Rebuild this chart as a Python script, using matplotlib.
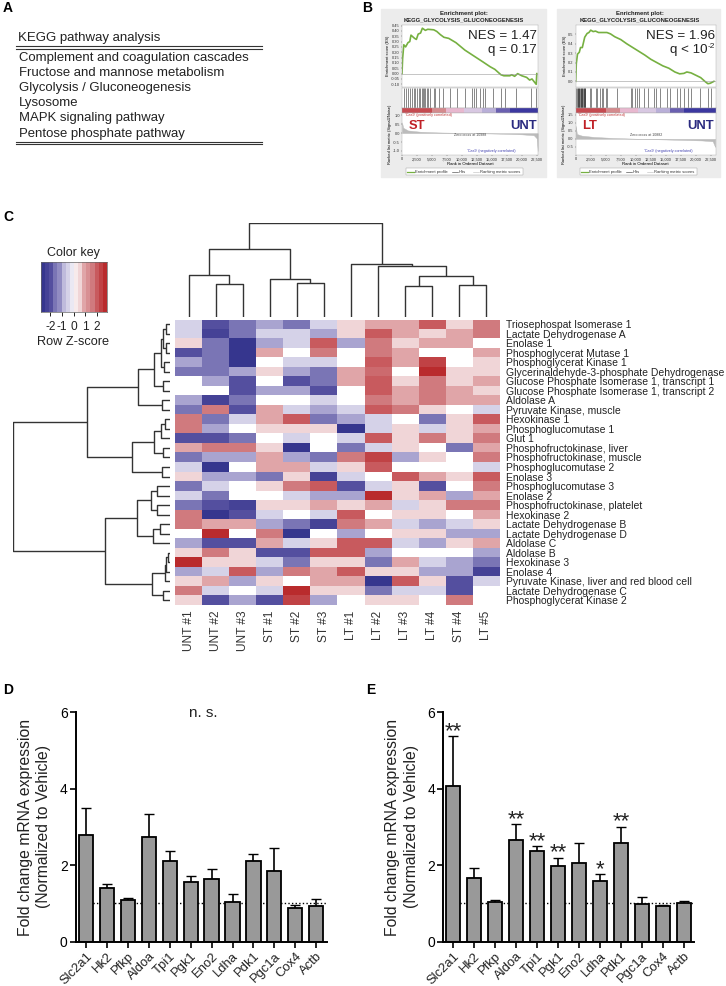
import matplotlib
matplotlib.use("Agg")
import matplotlib.pyplot as plt
import numpy as np
from matplotlib.colors import LinearSegmentedColormap
from matplotlib.lines import Line2D
from matplotlib.patches import Rectangle

plt.rcParams["font.family"] = ["Liberation Sans", "DejaVu Sans"]

W, H = 726, 986

# Panel A
kegg_title = "KEGG pathway analysis"
kegg_rows = ["Complement and coagulation cascades", "Fructose and mannose metabolism",
             "Glycolysis / Gluconeogenesis", "Lysosome", "MAPK signaling pathway",
             "Pentose phosphate pathway"]

# Panel B
rank_ticks = [0, 2500, 5000, 7500, 10000, 12500, 15000, 17500, 20000, 22500]
st_rank = [0, 100, 300, 600, 1000, 1300, 1500, 2100, 2400, 2700, 3100, 3400, 3900, 4300, 5300, 5800, 6400,
           7000, 7800, 9000, 10500, 12000, 13500, 14700, 15500, 16500, 17000, 18000, 18300, 18800, 19300,
           20000, 20800, 21300, 21700, 22400, 22500]
st_es = [0, .14, .27, .25, .29, .30, .36, .33, .32, .37, .38, .425, .405, .415, .41, .395, .365,
         .34, .33, .29, .22, .165, .11, .065, .04, -.01, -.02, -.02, -.01, -.025, 0,
         -.02, -.035, -.06, -.05, -.10, 0]
st_hits = [300, 700, 1000, 1400, 1700, 2000, 2200, 2500, 2800, 3000, 3300, 3500, 3600, 3900, 4100, 4400, 4700,
           5300, 5500, 6100, 6900, 8000, 9100, 10500, 11700, 12000, 12400, 13000, 13500, 13900, 15200, 16500,
           17200, 19000, 21500, 22400]
st_metric_rank = [0, 200, 1000, 3000, 6000, 10000, 12000, 16000, 20000, 22000, 22500, 22650]
st_metric = [.6, .3, .15, .08, .04, .01, 0, -.03, -.07, -.12, -.3, -1.0]

lt_rank = [0, 100, 300, 600, 800, 1100, 1500, 1900, 2200, 2500, 2900, 3300, 3800, 4500, 5200, 5800, 6500,
           7500, 8500, 9500, 10500, 11500, 12500, 13500, 14500, 15500, 16500, 17300, 18000, 18500, 19200,
           20000, 20800, 21500, 22000, 22400, 23000]
lt_es = [0, .19, .29, .31, .36, .36, .47, .51, .52, .545, .53, .535, .52, .52, .52, .505, .475,
         .445, .40, .36, .32, .28, .235, .20, .165, .14, .10, .08, .085, .10, .09,
         .065, .04, 0, -.025, -.02, 0]
lt_hits = [100, 200, 300, 400, 500, 600, 700, 800, 900, 1000, 1100, 1200, 1300, 1400, 1500, 1600, 2300, 2500,
           3300, 3600, 4000, 4300, 4500, 5100, 5200, 6800, 9200, 9400, 9800, 10200, 10500, 11300, 12100, 13000,
           13400, 14100, 15200, 15700, 16800, 17400, 18000, 18700, 19200, 20700, 22100, 22500]
lt_metric_rank = [0, 200, 1000, 3000, 6000, 10000, 14000, 18000, 21000, 22800, 23200]
lt_metric = [.8, .3, .2, .12, .06, .01, -.03, -.07, -.1, -.15, -.5]
heat_edges = [0, 5000, 7400, 10300, 13300, 15700, 18000, 23300]
heat_colors = ["#c64a50", "#d58a8d", "#e8b8cf", "#d8c8e2", "#b9afd8", "#6a60b0", "#3c38a0"]

# Panel C
sample_labels = ["UNT #1", "UNT #2", "UNT #3", "ST #1", "ST #2", "ST #3",
                 "LT #1", "LT #2", "LT #3", "LT #4", "ST #4", "LT #5"]
gene_labels = ["Triosephospat Isomerase 1", "Lactate Dehydrogenase A", "Enolase 1", "Phosphoglycerat Mutase 1",
               "Phosphoglycerat Kinase 1", "Glycerinaldehyde-3-phosphate Dehydrogenase",
               "Glucose Phosphate Isomerase 1, transcript 1", "Glucose Phosphate Isomerase 1, transcript 2",
               "Aldolase A", "Pyruvate Kinase, muscle", "Hexokinase 1", "Phosphoglucomutase 1", "Glut 1",
               "Phosphofructokinase, liver", "Phosphofructokinase, muscle", "Phosphoglucomutase 2", "Enolase 3",
               "Phosphoglucomutase 3", "Enolase 2", "Phosphofructokinase, platelet", "Hexokinase 2",
               "Lactate Dehydrogenase B", "Lactate Dehydrogenase D", "Aldolase C", "Aldolase B", "Hexokinase 3",
               "Enolase 4", "Pyruvate Kinase, liver and red blood cell", "Lactate Dehydrogenase C",
               "Phosphoglycerat Kinase 2"]
# colour level per cell, -5 (dark blue) to 5 (dark red)
heat_values = [
    [-1, -4, -3, -2, -3, -1, 1, 2, 2, 4, 1, 3],
    [-1, -4.5, -3, -1, -1, -2, 1, 4, 2, 1, 2, 3],
    [1, -3, -5, -2, -1, 4, -2, 3, 1, 2, 2, 0],
    [-4, -3, -5, 2, 0, 3, 0, 3, 2, 0, 0, 2],
    [-2, -3, -5, 0, -1, -1, 0, 4, 2, 4.5, 0, 1],
    [-3, -3, -2, 1, -2, -3, 2, 3.5, 0, 5, 1, 1],
    [0, -2, -4, 0, -4, -3, 2, 4, 1, 3, 1, 2],
    [0, 0, -4, -2, -2, -4, 0, 4, 2, 3, 2, 1],
    [-2, -4.5, -3, 0, 0, -1, 0, 3, 2, 3, 2, 2],
    [-3, 3, -4, 2, -1, -2, -1, 4, 3, 1, 0, -1],
    [3, -3, -1, 2, 4, -3, -2, -1, 0, -3, 1, 4],
    [3, -2, 0, 1, 1, 1, -5, -1, 1, -1, 1, 2],
    [-4, -4, -3, 0, -1, 0, -1, 4, 1, 3, 1, 3],
    [2, 3, 3, 1, -5, 0, -3, -1, 1, 0, -3, 2],
    [-3, -2, -2, 2, -2, -3, 3, 4.5, -2, 1, 0, 3],
    [-1, -5, 0, 2, 2, -1, 1, 4, 0, 0, 0, -1],
    [1, -2, -2, -3, 1, -4.5, -1, 0, 4, 2, 1, 4],
    [-3, -1, 0, 1, 3, 4, -4, -1, 1, -4, 0, 3],
    [-1, -3, 0, 0, -1, -2, -2, 5, 1, 2, -2, 2],
    [-3, -4, -4.5, 1, 1, 2, 1, 2, -1, 1, 3, 3],
    [3, -5, -4, -1, 0, -1, 4, 0, 1, 1, 0, 2],
    [3, 2, 2, -2, -3, -4.5, 3, 2, -1, -2, -1, 1],
    [0, 5, 0, 3, -5, 0, -2, 0, 1, 1, -2, -2],
    [-2, -4, -4, 2, -1, 1, 4, 4, -1, -2, 1, 2],
    [1, 3, 1, -4, -4, 4, 4, -2, 0, 0, 0, -2],
    [5, 1, 1, -1, -3, 1, 1, -3, 2, -1, -2, -3],
    [-2, -1, 4, -2, 3, 2, 4, 1, 1, -2, -2, -4.5],
    [1, 2, -2, 1, 0, 2, 2, -5, 4, 1, -4, -1],
    [3, -1, 0, -1, 5, 1, 1, -3, -1, -1, -4, 0],
    [1, -4, -2, -4, 4.5, -2, 0, 1, 1, 0, 3, 0],
]
key_ticks = [-2, -1, 0, 1, 2]
key_colors = ["#36368e", "#544f9f", "#7a75b5", "#a9a4d0", "#d5d2e8", "#ffffff",
              "#f0d5d7", "#e0a5a8", "#d07a7e", "#c85a5e", "#b92b2d"]
# trees: (height, child, child), a leaf is a row or column number
col_tree = (93.5,
            (68, (42, 0, (33, 1, 2)), (38, 3, (34, 4, 5))),
            (53, 6, (51, 7, (41, (31, 8, 9), (32, 10, 11)))))
row_tree = (157,
            (83, (32, (16, (9, (7, (4, 0, 1), (4, 2, 3)), (6, 4, 5)), (7, 6, 7)), (8, 8, 9)),
             (38, (16, (9, (5, 10, 11), 12), (7, 13, 14)), (8, 15, 16))),
            (65, (33, (19, (13, 17, 18), (13, 19, 20)), (17, (10, 21, 22), 23)),
             (18, (5, (4, (2, 24, 25), 26), 27), (7, 28, 29))))

# Panels D and E
genes = ["Slc2a1", "Hk2", "Pfkp", "Aldoa", "Tpi1", "Pgk1", "Eno2", "Ldha", "Pdk1", "Pgc1a", "Cox4", "Actb"]
d_means = [2.78, 1.40, 1.10, 2.74, 2.10, 1.55, 1.63, 1.03, 2.11, 1.84, 0.88, 0.94]
d_tops = [3.50, 1.50, 1.15, 3.33, 2.38, 1.71, 1.91, 1.24, 2.30, 2.45, 0.95, 1.12]
e_means = [4.07, 1.66, 1.03, 2.67, 2.36, 1.99, 2.06, 1.60, 2.58, 0.98, 0.93, 1.00]
e_tops = [5.37, 1.92, 1.10, 3.07, 2.50, 2.20, 2.57, 1.76, 3.01, 1.16, 0.97, 1.07]
e_stars = ["**", "", "", "**", "**", "**", "", "*", "**", "", "", ""]

fig = plt.figure(figsize=(W / 100, H / 100), dpi=100)


def ax_px(left, top, right, bottom):
    return fig.add_axes([left / W, 1 - bottom / H, (right - left) / W, (bottom - top) / H])


def text_px(x, y, s, **kw):
    kw.setdefault("va", "center")
    return fig.text(x / W, 1 - y / H, s, **kw)


def rule(x0, x1, y, lw=1.0, color="#333333"):
    fig.add_artist(Line2D([x0 / W, x1 / W], [1 - y / H, 1 - y / H], color=color, lw=lw))


for label, x, y in [("A", 3, 8), ("B", 362, 8), ("C", 3, 217), ("D", 3, 690), ("E", 366, 690)]:
    text_px(x, y, label, fontsize=10, fontweight="bold")

# Panel A table
text_px(18, 38, kegg_title, fontsize=9.5, color="#222222")
rule(16, 262, 46, 0.8)
rule(16, 262, 48.5, 0.8)
for i, name in enumerate(kegg_rows):
    text_px(19, 58 + i * 15.1, name, fontsize=9.45, color="#222222")
rule(16, 262, 141.5, 0.8)
rule(16, 262, 144, 0.8)


def style_gsea(ax):
    ax.tick_params(length=1, width=0.3, labelsize=2.9, pad=0.6, colors="#333333")
    for s in ax.spines.values():
        s.set_linewidth(0.3)
        s.set_color("#aaaaaa")


def gsea_panel(box, xmax, rank, es, hits, mrank, metric, es_lim, es_ticks, m_lim, m_ticks,
               es_fmt, nes, q, q_exp, lab, lab_x, unt_x, zero_txt):
    left, right, bg_l, bg_r = box
    fig.add_artist(Rectangle((bg_l / W, 1 - 177 / H), (bg_r - bg_l) / W, 168 / H, color="#ececec", zorder=-5))
    mid = (left + right) / 2 - 6
    text_px(mid, 13.7, "Enrichment plot:", fontsize=4.3, fontweight="bold", ha="center", color="#222222")
    text_px(mid, 20.3, "KEGG_GLYCOLYSIS_GLUCONEOGENESIS", fontsize=4.25, fontweight="bold", ha="center", color="#222222")

    top = ax_px(left, 25, right, 87)
    top.plot(rank, es, color="#76b041", lw=1.2)
    top.axhline(0, color="#999999", lw=0.4)
    top.set_xlim(0, xmax)
    top.set_ylim(*es_lim)
    top.set_xticks([])
    top.set_yticks(es_ticks)
    top.set_yticklabels([es_fmt % v for v in es_ticks])
    top.set_ylabel("Enrichment score (ES)", fontsize=2.9, labelpad=0.8)
    style_gsea(top)

    hit = ax_px(left, 88, right, 108)
    hit.vlines(hits, 0, 1, color="black", lw=0.6, alpha=0.55)
    hit.set_xlim(0, xmax)
    hit.set_ylim(0, 1)
    hit.set_xticks([])
    hit.set_yticks([])
    style_gsea(hit)

    bar = ax_px(left, 108, right, 113)
    for i, c in enumerate(heat_colors):
        bar.axvspan(heat_edges[i], heat_edges[i + 1], color=c, lw=0)
    bar.set_xlim(0, xmax)
    bar.set_xticks([])
    bar.set_yticks([])
    style_gsea(bar)

    low = ax_px(left, 113, right, 155)
    low.fill_between(mrank, metric, 0, color="#bbbbbb", lw=0.3)
    low.set_xlim(0, xmax)
    low.set_ylim(*m_lim)
    low.set_yticks(m_ticks)
    low.set_yticklabels(["%.1f" % v for v in m_ticks])
    low.set_xticks(rank_ticks)
    low.set_xticklabels(["{:,}".format(v) for v in rank_ticks])
    low.set_xlabel("Rank in Ordered Dataset", fontsize=3.1, labelpad=0.8)
    low.set_ylabel("Ranked list metric (Signal2Noise)", fontsize=2.9, labelpad=0.8)
    style_gsea(low)
    low.text(0.02, 0.95, "'Cas9' (positively correlated)", transform=low.transAxes, fontsize=2.7, color="#c03030", va="center")
    low.text(0.66, 0.09, "'Cas9' (negatively correlated)", transform=low.transAxes, fontsize=2.7, color="#4040b0", ha="center", va="center")
    low.text(0.5, 0.47, zero_txt, transform=low.transAxes, fontsize=2.6, color="#444444", ha="center", va="center")

    text_px(right - 1, 36, nes, fontsize=9.6, ha="right", color="#222222")
    if q_exp:
        text_px(right - 8, 50, q, fontsize=9.6, ha="right", color="#222222")
        text_px(right - 8, 46.5, q_exp, fontsize=6, ha="left", color="#222222")
    else:
        text_px(right - 1, 50, q, fontsize=9.6, ha="right", color="#222222")
    text_px(lab_x, 126, lab, fontsize=9.4, fontweight="bold", color="#c02026")
    text_px(unt_x, 126, "UNT", fontsize=9.4, fontweight="bold", color="#2a2a80", ha="right")

    # legend box
    lx = left + 4
    fig.add_artist(Rectangle((lx / W, 1 - 175 / H), 117 / W, 7 / H, facecolor="white", edgecolor="#999999", lw=0.3))
    fig.add_artist(Line2D([(lx + 1) / W, (lx + 8) / W], [1 - 171.5 / H] * 2, color="#76b041", lw=0.9))
    text_px(lx + 9, 171.5, "Enrichment profile", fontsize=3, color="#333333")
    fig.add_artist(Line2D([(lx + 46) / W, (lx + 52) / W], [1 - 171.5 / H] * 2, color="#333333", lw=0.4))
    text_px(lx + 53, 171.5, "Hits", fontsize=3, color="#333333")
    fig.add_artist(Line2D([(lx + 67) / W, (lx + 73) / W], [1 - 171.5 / H] * 2, color="#bbbbbb", lw=0.4))
    text_px(lx + 74, 171.5, "Ranking metric scores", fontsize=3, color="#333333")


gsea_panel((402, 538, 381, 546), 22700, st_rank, st_es, st_hits, st_metric_rank, st_metric,
           (-0.125, 0.455), [-.10, -.05, 0, .05, .10, .15, .20, .25, .30, .35, .40, .45], (-1.23, 1.13),
           [1.0, 0.5, 0.0, -0.5, -1.0], "%.2f", "NES = 1.47", "q = 0.17", "", "ST", 409, 537,
           "Zero cross at 10988")
gsea_panel((575.7, 715.7, 557, 720), 23300, lt_rank, lt_es, lt_hits, lt_metric_rank, lt_metric,
           (-0.06, 0.6), [0, .1, .2, .3, .4, .5], (-1.0, 1.6),
           [1.5, 1.0, 0.5, 0.0, -0.5], "%.1f", "NES = 1.96", "q < 10", "-2", "LT", 582, 714,
           "Zero cross at 10882")

# Panel C heatmap
level_cmap = LinearSegmentedColormap.from_list("key", key_colors, N=21)
hm = ax_px(175, 319.5, 500, 605)
hm.imshow(np.array(heat_values), cmap=level_cmap, vmin=-5, vmax=5, aspect="auto", interpolation="nearest")
hm.set_xticks(range(len(sample_labels)))
hm.set_xticklabels(sample_labels, rotation=90, fontsize=8.6, color="#333333")
hm.set_yticks(range(len(gene_labels)))
hm.yaxis.tick_right()
hm.set_yticklabels(gene_labels, fontsize=7.5, color="#222222")
hm.tick_params(length=0, pad=4)
for s in hm.spines.values():
    s.set_visible(False)


def draw_tree(node, ax, horizontal):
    # returns leaf-axis position of a node, draws the brackets on the way
    if not isinstance(node, tuple):
        return node + 0.5, 0
    height, a, b = node
    pa, ha = draw_tree(a, ax, horizontal)
    pb, hb = draw_tree(b, ax, horizontal)
    p = [pa, pa, pb, pb]
    h = [ha, height, height, hb]
    if horizontal:
        ax.plot(p, h, color="#333333", lw=1.0, solid_capstyle="butt")
    else:
        ax.plot(h, p, color="#333333", lw=1.0, solid_capstyle="butt")
    return (pa + pb) / 2, height


top_tree = ax_px(175, 223, 500, 316.7)
draw_tree(col_tree, top_tree, True)
top_tree.set_xlim(0, 12)
top_tree.set_ylim(0, 93.7)
top_tree.axis("off")

left_tree = ax_px(12.7, 319.5, 170, 605)
draw_tree(row_tree, left_tree, False)
left_tree.set_xlim(157.3, 0)
left_tree.set_ylim(30, 0)
left_tree.axis("off")

# colour key
key = ax_px(40.7, 261.7, 106.7, 312.3)
key_bands = np.linspace(-5, 5, 16).reshape(1, -1)
key.imshow(key_bands, cmap=level_cmap, vmin=-5, vmax=5, aspect="auto", extent=(-2.83, 2.83, 0, 1), interpolation="nearest")
key.set_yticks([])
key.set_xticks(key_ticks)
key.set_xticklabels([str(v) for v in key_ticks], fontsize=8.6, color="#222222")
key.tick_params(length=3, width=0.6, pad=3.5)
for s in key.spines.values():
    s.set_linewidth(0.5)
    s.set_color("#666666")
text_px(73.5, 253, "Color key", fontsize=9, ha="center", color="#222222")
text_px(73.5, 342, "Row Z-score", fontsize=9.2, ha="center", color="#222222")


# Panels D, E bar charts
def bar_panel(box, means, tops):
    ax = ax_px(*box)
    x = np.arange(len(genes))
    err = np.array(tops) - np.array(means)
    ax.plot([-0.2, 11.5], [1, 1], color="black", lw=1.0, ls=(0, (1, 1.6)), zorder=1)
    ax.bar(x, means, width=0.68, color="#999999", edgecolor="black", lw=1.3, zorder=2)
    ax.errorbar(x, means, yerr=[np.zeros(len(x)), err], fmt="none", ecolor="black", elinewidth=1.2,
                capsize=3.4, capthick=1.0, zorder=1.5)
    ax.set_xlim(-0.478, 11.5)
    ax.set_ylim(0, 6)
    ax.set_yticks([0, 2, 4, 6])
    ax.set_xticks(x)
    ax.set_xticklabels(genes, rotation=45, ha="right", rotation_mode="anchor", fontsize=9.4, color="#222222")
    ax.tick_params(axis="y", labelsize=10, width=1.2, length=4, pad=2)
    ax.tick_params(axis="x", width=1.2, length=4, pad=2)
    ax.spines["top"].set_visible(False)
    ax.spines["right"].set_visible(False)
    ax.spines["left"].set_linewidth(1.4)
    ax.spines["bottom"].set_linewidth(1.4)
    ax.set_ylabel("Fold change mRNA expression\n(Normalized to Vehicle)", fontsize=11.3, color="#222222", labelpad=6, linespacing=1.3)
    return ax


ax_d = bar_panel((76, 712.3, 326.7, 941.7), d_means, d_tops)
ax_d.text(5.62, 5.97, "n. s.", fontsize=11, ha="center", va="center", color="#222222")
ax_e = bar_panel((443.3, 712.3, 694.3, 941.7), e_means, e_tops)
for i, star in enumerate(e_stars):
    if star:
        ax_e.text(i, e_tops[i] + 0.12, star, fontsize=16, ha="center", va="center", color="#222222")

fig.savefig("out.png", dpi=100)
